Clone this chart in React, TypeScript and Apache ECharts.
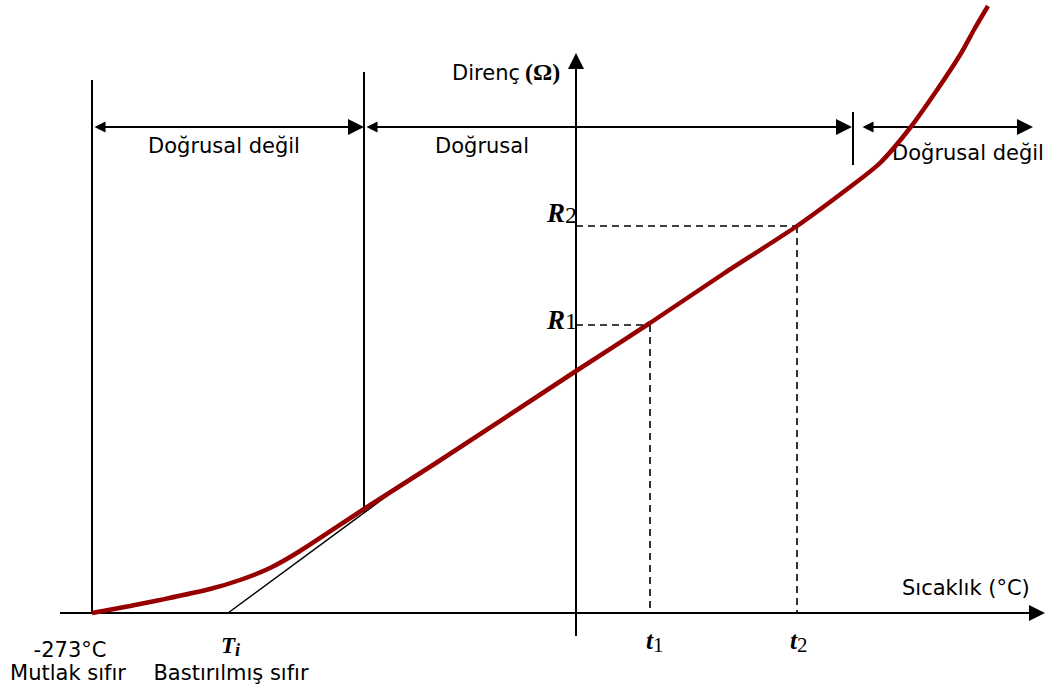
import React, { useEffect, useRef } from "react";
import * as echarts from "echarts";

// Coordinates: temperature (x) and resistance (y) in diagram units; origin = axis crossing
const curveT = [-484, -446, -416, -366, -336, -306, -276, -212, -140, 0, 74, 150, 221, 274, 304, 334, 361, 384, 399, 412];
const curveR = [0, 7, 13, 24, 33, 45, 62, 104, 150, 242, 290, 341, 387, 426, 450, 485, 523, 558, 585, 607];

const tangentT = [-348, -181];
const tangentR = [0, 123];

const axisX = [[-516, 0], [461, 0]];
const axisY = [[0, -23], [0, 552]];

// region boundaries: [t, rTop, rBottom]
const boundaries = [
  [-484, 533, 0],
  [-212, 541, 101],
  [277, 501, 448],
];
// range arrows at r = 486
const rangeR = 486;
const ranges = [
  [-484, -212],
  [-212, 276],
  [284, 457],
];
const rangeLabels = ["Doğrusal değil", "Doğrusal", "Doğrusal değil"];

const t1 = 74;
const t2 = 221;
const R1 = 288;
const R2 = 387;

const RED = "#960000";

export default function App() {
  const ref = useRef<HTMLDivElement>(null);
  useEffect(() => {
    if (!ref.current) return;
    const chart = echarts.init(ref.current, null, { renderer: "svg" });
    const sans = "DejaVu Sans";
    const serif = "Liberation Serif";
    const txt = (text: string, x: number, y: number, align: string, extra: any = {}) => ({
      type: "text",
      x,
      y,
      silent: true,
      style: {
        text,
        fontSize: 21,
        fontFamily: sans,
        fill: "#000",
        align,
        verticalAlign: "middle",
        ...extra,
      },
    });
    const bi = (size: number) => ({ fontFamily: serif, fontStyle: "italic", fontWeight: "bold", fontSize: size });
    const rg = (size: number) => ({ fontFamily: serif, fontSize: size });
    const AH = 8; // half arrow-head length, so the tip meets the boundary
    const option: any = {
      animation: false,
      backgroundColor: "#fff",
      grid: { left: 0, right: 0, top: 0, bottom: 0 },
      xAxis: { type: "value", min: -576, max: 472, show: false },
      yAxis: { type: "value", min: -79, max: 613, show: false },
      graphic: [
        txt(rangeLabels[0], 224, 146, "center"),
        txt(rangeLabels[1], 482, 146, "center"),
        txt(rangeLabels[2], 968, 153, "center"),
        txt("Direnç", 520, 73, "right"),
        txt("(Ω)", 525, 72, "left", { fontFamily: serif, fontWeight: "bold", fontSize: 24 }),
        txt("Sıcaklık (°C)", 902, 588, "left"),
        txt("-273°C", 70, 650, "center"),
        txt("Mutlak sıfır", 68, 673, "center"),
        txt("Bastırılmış sıfır", 231, 673, "center"),
        txt("T", 235, 645, "right", bi(23)),
        txt("i", 235, 650, "left", bi(18)),
        txt("t", 653, 640, "right", bi(25)),
        txt("1", 653, 645, "left", rg(21)),
        txt("t", 797, 640, "right", bi(25)),
        txt("2", 797, 645, "left", rg(21)),
        txt("R", 565, 213, "right", bi(27)),
        txt("2", 565, 215, "left", rg(24)),
        txt("R", 565, 320, "right", bi(27)),
        txt("1", 565, 321, "left", rg(24)),
      ],
      series: [
        {
          type: "lines",
          coordinateSystem: "cartesian2d",
          silent: true,
          symbol: ["none", "triangle"],
          symbolSize: [12, 16],
          lineStyle: { color: "#000", width: 2, opacity: 1 },
          data: [{ coords: axisX }, { coords: axisY }],
        },
        {
          type: "lines",
          coordinateSystem: "cartesian2d",
          silent: true,
          symbol: ["none", "none"],
          lineStyle: { color: "#000", width: 2, opacity: 1 },
          data: boundaries.map((b) => ({ coords: [[b[0], b[1]], [b[0], b[2]]] })),
        },
        {
          type: "lines",
          coordinateSystem: "cartesian2d",
          silent: true,
          symbol: ["triangle", "triangle"],
          symbolSize: [11, 16],
          lineStyle: { color: "#000", width: 2, opacity: 1 },
          data: ranges.map((r) => ({ coords: [[r[0] + AH, rangeR], [r[1] - AH, rangeR]] })),
        },
        {
          type: "lines",
          coordinateSystem: "cartesian2d",
          silent: true,
          symbol: ["none", "none"],
          lineStyle: { color: "#000", width: 1.6, type: [7, 5], opacity: 1 },
          data: [
            { coords: [[0, R2], [t2, R2]] },
            { coords: [[t2, R2], [t2, 0]] },
            { coords: [[0, R1], [t1, R1]] },
            { coords: [[t1, R1], [t1, 0]] },
          ],
        },
        {
          type: "line",
          silent: true,
          showSymbol: false,
          lineStyle: { color: "#000", width: 1.5 },
          data: tangentT.map((t, i) => [t, tangentR[i]]),
        },
        {
          type: "line",
          silent: true,
          showSymbol: false,
          smooth: 0.25,
          lineStyle: { color: RED, width: 4.5 },
          data: curveT.map((t, i) => [t, curveR[i]]),
        },
      ],
    };
    chart.setOption(option);
    return () => chart.dispose();
  }, []);
  return (
    <div
      ref={ref}
      style={{ position: "absolute", left: 0, top: 0, width: 1048, height: 692 }}
    />
  );
}
